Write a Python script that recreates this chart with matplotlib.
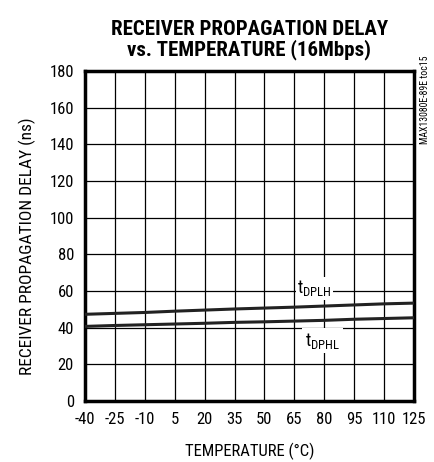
import matplotlib.pyplot as plt

temps = [-40, -25, -10, 5, 20, 35, 50, 65, 80, 95, 110, 125]
t_dplh = [47.3, 47.8, 48.3, 49.0, 49.6, 50.2, 50.7, 51.2, 51.8, 52.4, 53.0, 53.4]
t_dphl = [40.7, 41.2, 41.6, 42.0, 42.4, 42.9, 43.2, 43.6, 44.0, 44.6, 45.0, 45.4]
x_ticks = [-40, -25, -10, 5, 20, 35, 50, 65, 80, 95, 110, 125]
y_ticks = [0, 20, 40, 60, 80, 100, 120, 140, 160, 180]

# narrow face like the datasheet, plain sans if it is missing
plt.rcParams['font.family'] = ['Roboto Condensed', 'Liberation Sans', 'DejaVu Sans']
plt.rcParams['axes.unicode_minus'] = False

fig = plt.figure(figsize=(4.35, 4.62), dpi=100)
ax = fig.add_axes([0.1954, 0.132, 0.7563, 0.7143])

ax.plot(temps, t_dplh, color='#222222', lw=2.2, zorder=3)
ax.plot(temps, t_dphl, color='#222222', lw=2.2, zorder=3)

ax.set_xlim(-40, 125)
ax.set_ylim(0, 180)
ax.set_xticks(x_ticks)
ax.set_yticks(y_ticks)
ax.grid(True, color='black', lw=0.9)
ax.tick_params(length=0, labelsize=12)
ax.tick_params(axis='x', pad=8)
ax.tick_params(axis='y', pad=8)
for s in ax.spines.values():
    s.set_linewidth(2.5)

ax.text(75, 61.5, r'$\mathregular{t_{DPLH}}$', fontsize=13, ha='center', va='center',
        bbox=dict(facecolor='white', edgecolor='none', pad=1), zorder=4)
ax.text(79, 33, r'$\mathregular{t_{DPHL}}$', fontsize=13, ha='center', va='center',
        bbox=dict(facecolor='white', edgecolor='none', pad=2), zorder=4)

ax.set_xlabel('TEMPERATURE (°C)', fontsize=12, labelpad=11)
ax.set_ylabel('RECEIVER PROPAGATION DELAY (ns)', fontsize=12.5)
ax.yaxis.set_label_coords(-0.15, 0.47)
ax.set_title('RECEIVER PROPAGATION DELAY\nvs. TEMPERATURE (16Mbps)', fontsize=15,
             fontweight='heavy', linespacing=1.02, pad=11)
fig.text(0.977, 0.88, 'MAX13080E-89E toc15', rotation=90, fontsize=7, ha='center', va='top')

fig.savefig('out.png', dpi=100)
